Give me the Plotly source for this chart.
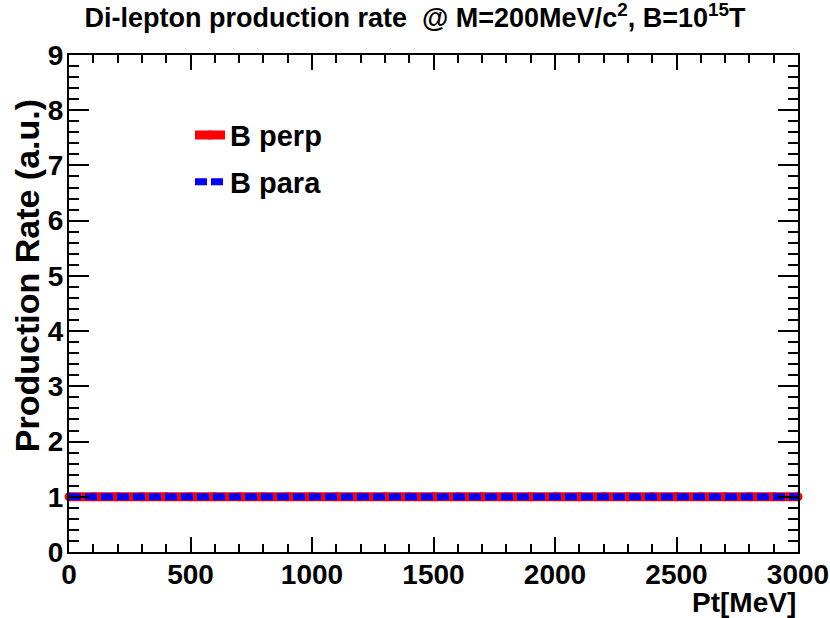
import plotly.graph_objects as go

# Data
pt = [0, 100, 200, 300, 400, 500, 600, 700, 800, 900, 1000,
      1100, 1200, 1300, 1400, 1500, 1600, 1700, 1800, 1900, 2000,
      2100, 2200, 2300, 2400, 2500, 2600, 2700, 2800, 2900, 3000]
rate_perp = [1.0, 1.0, 1.0, 1.0, 1.0, 1.0, 1.0, 1.0, 1.0, 1.0, 1.0,
             1.0, 1.0, 1.0, 1.0, 1.0, 1.0, 1.0, 1.0, 1.0, 1.0,
             1.0, 1.0, 1.0, 1.0, 1.0, 1.0, 1.0, 1.0, 1.0, 1.0]
rate_para = [1.0, 1.0, 1.0, 1.0, 1.0, 1.0, 1.0, 1.0, 1.0, 1.0, 1.0,
             1.0, 1.0, 1.0, 1.0, 1.0, 1.0, 1.0, 1.0, 1.0, 1.0,
             1.0, 1.0, 1.0, 1.0, 1.0, 1.0, 1.0, 1.0, 1.0, 1.0]
x_ticks = [0, 500, 1000, 1500, 2000, 2500, 3000]
y_ticks = [0, 1, 2, 3, 4, 5, 6, 7, 8, 9]

FONT = "Liberation Sans"

fig = go.Figure()
fig.add_trace(go.Scatter(
    x=pt, y=rate_perp, name="<b>B perp</b>", mode="lines+markers",
    legendgroup="perp", cliponaxis=False,
    line=dict(color="#ff0000", width=9),
    marker=dict(color="#ff0000", size=9, symbol="circle"),
))
fig.add_trace(go.Scatter(
    x=pt, y=rate_para, name="<b>B para</b>", mode="lines",
    legendgroup="para",
    line=dict(color="#0000ff", width=7, dash="12px,4px"),
))

axis_common = dict(
    showgrid=False, zeroline=False, showline=True, linecolor="black",
    linewidth=2, mirror="ticks", ticks="inside", tickcolor="black",
    tickwidth=1.5, tickfont=dict(family=FONT, size=28, color="black"),
    automargin=False,
)

fig.update_xaxes(
    range=[0, 3000], tickvals=x_ticks, ticktext=[f"<b>{v}</b>" for v in x_ticks],
    ticklen=15, ticklabelstandoff=-4,
    minor=dict(dtick=100, ticklen=8, ticks="inside", tickcolor="black", tickwidth=1.5),
    **axis_common,
)
fig.update_yaxes(
    range=[0, 9], tickvals=y_ticks, ticktext=[f"<b>{v}</b>" for v in y_ticks],
    ticklen=20, ticklabelstandoff=-2,
    minor=dict(dtick=0.2, ticklen=10, ticks="inside", tickcolor="black", tickwidth=1.5),
    **axis_common,
)

fig.update_layout(
    width=830, height=618,
    margin=dict(l=69, r=32, t=55, b=66),
    paper_bgcolor="white", plot_bgcolor="white",
    font=dict(family=FONT, color="black"),
    title=dict(
        text="<b>Di-lepton production rate  @ M=200MeV/c<sup>2</sup>, B=10<sup>15</sup>T</b>",
        x=0.5, xanchor="center", y=0.971, yanchor="middle", yref="container",
        font=dict(family=FONT, size=27, color="black"),
    ),
    legend=dict(
        x=0.166, y=0.89, xanchor="left", yanchor="top",
        bgcolor="rgba(0,0,0,0)", font=dict(family=FONT, size=29, color="black"),
        itemwidth=30, traceorder="grouped", tracegroupgap=6,
    ),
    showlegend=True,
    hovermode=False,
    annotations=[
        dict(text="<b>Pt[MeV]</b>", xref="paper", yref="paper", x=1.0, y=-0.1026,
             xanchor="right", yanchor="middle", showarrow=False,
             font=dict(family=FONT, size=28, color="black")),
        dict(text="<b>Production Rate (a.u.)</b>", xref="paper", yref="paper",
             x=-0.0576, y=0.555, xanchor="center", yanchor="middle", textangle=-90,
             showarrow=False, font=dict(family=FONT, size=34, color="black")),
    ],
)

fig.write_html("out.html")
